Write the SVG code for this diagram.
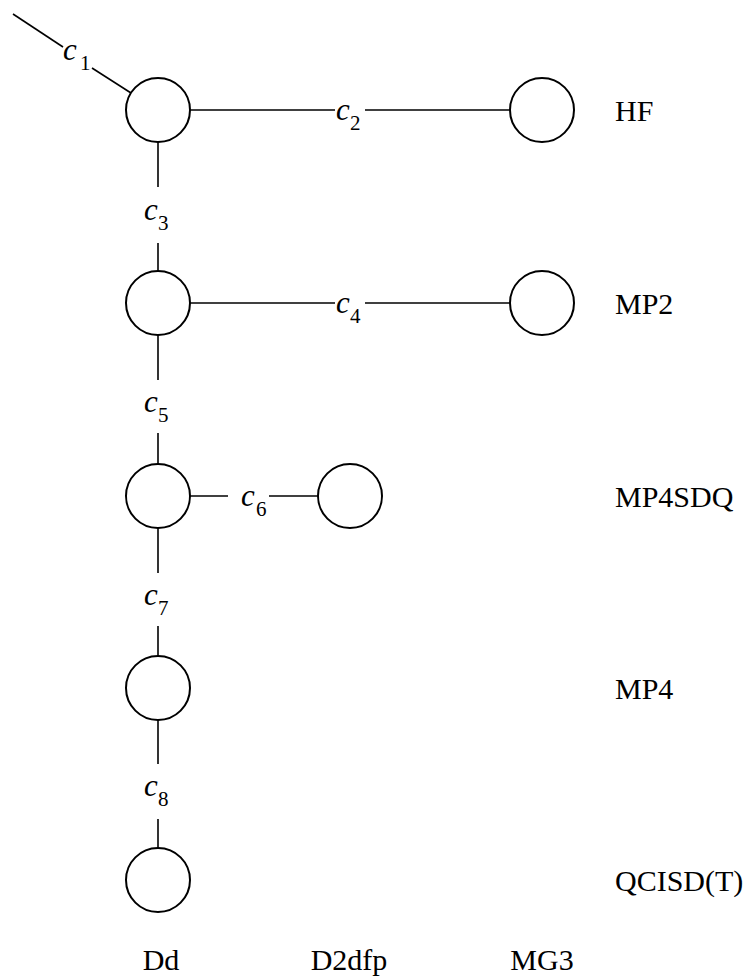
<svg xmlns="http://www.w3.org/2000/svg" width="756" height="978" viewBox="0 0 756 978">
<style>
.n{fill:#fff;stroke:#000;stroke-width:2}
.e{stroke:#000;stroke-width:1.6;fill:none}
.t{font-family:"Liberation Serif","Times New Roman",serif;font-size:30px;fill:#000}
.c{font-family:"Liberation Serif","Times New Roman",serif;font-size:31px;font-style:italic;fill:#000}
.s{font-family:"Liberation Serif","Times New Roman",serif;font-size:21px;fill:#000}
</style>
<rect width="756" height="978" fill="#fff"/>
<g id="connectors">
<line class="e" x1="13" y1="14" x2="63" y2="47"/>
<line class="e" x1="92" y1="68" x2="131" y2="93"/>
<text class="c" x="63" y="60">c</text><text class="s" x="80" y="70">1</text>
<line class="e" x1="190" y1="110" x2="335" y2="110"/>
<line class="e" x1="365" y1="110" x2="510" y2="110"/>
<text class="c" x="336" y="120">c</text><text class="s" x="350" y="130">2</text>
<line class="e" x1="158" y1="142" x2="158" y2="187"/>
<line class="e" x1="158" y1="243" x2="158" y2="271"/>
<text class="c" x="144" y="220">c</text><text class="s" x="158" y="230">3</text>
<line class="e" x1="190" y1="303" x2="335" y2="303"/>
<line class="e" x1="365" y1="303" x2="510" y2="303"/>
<text class="c" x="336" y="313">c</text><text class="s" x="350" y="323">4</text>
<line class="e" x1="158" y1="335" x2="158" y2="380"/>
<line class="e" x1="158" y1="433" x2="158" y2="464"/>
<text class="c" x="144" y="412">c</text><text class="s" x="158" y="422">5</text>
<line class="e" x1="190" y1="496" x2="228" y2="496"/>
<line class="e" x1="269" y1="496" x2="318" y2="496"/>
<text class="c" x="241" y="506">c</text><text class="s" x="256" y="516">6</text>
<line class="e" x1="158" y1="528" x2="158" y2="573"/>
<line class="e" x1="158" y1="626" x2="158" y2="656"/>
<text class="c" x="144" y="605">c</text><text class="s" x="158" y="615">7</text>
<line class="e" x1="158" y1="720" x2="158" y2="764"/>
<line class="e" x1="158" y1="819" x2="158" y2="848"/>
<text class="c" x="144" y="796">c</text><text class="s" x="158" y="806">8</text>
</g>
<g id="n1"><circle class="n" cx="158" cy="110" r="32"/></g>
<g id="n2"><circle class="n" cx="542" cy="110" r="32"/></g>
<g id="n3"><circle class="n" cx="158" cy="303" r="32"/></g>
<g id="n4"><circle class="n" cx="542" cy="303" r="32"/></g>
<g id="n5"><circle class="n" cx="158" cy="496" r="32"/></g>
<g id="n6"><circle class="n" cx="350" cy="496" r="32"/></g>
<g id="n7"><circle class="n" cx="158" cy="688" r="32"/></g>
<g id="n8"><circle class="n" cx="158" cy="880" r="32"/></g>
<g id="labels">
<text class="t" x="615" y="121">HF</text>
<text class="t" x="615" y="314">MP2</text>
<text class="t" x="615" y="507">MP4SDQ</text>
<text class="t" x="615" y="699">MP4</text>
<text class="t" x="615" y="891">QCISD(T)</text>
<text class="t" x="161" y="970" text-anchor="middle">Dd</text>
<text class="t" x="349" y="970" text-anchor="middle">D2dfp</text>
<text class="t" x="542" y="970" text-anchor="middle">MG3</text>
</g>
</svg>
